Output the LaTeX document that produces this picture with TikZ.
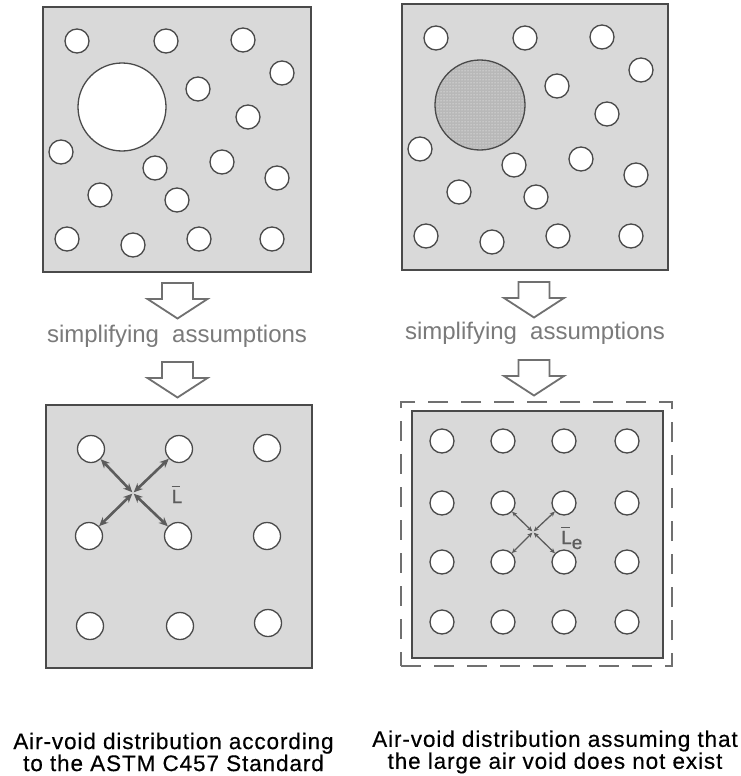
\documentclass[tikz,border=0pt]{standalone}
\usepackage{fontspec}
\setmainfont{Liberation Sans}
\usetikzlibrary{patterns,arrows.meta}
\definecolor{boxfill}{HTML}{D9D9D9}
\definecolor{edge}{HTML}{4A4A4A}
\definecolor{arrowgray}{HTML}{707070}
\definecolor{textgray}{HTML}{7A7A7A}
\definecolor{hatch}{HTML}{B8B8B8}
\newcommand{\voidfield}[1]{%
  \foreach \vx/\vy [count=\vi] in {34/34,123/34,200/33,239/66,155/82,205/110,18/145,112/161,179/155,234/171,57/188,134/193,24/232,90/238,156/232,229/232}
    \node[void] (#1-\vi) at (\vx,\vy) {};}
\newcommand{\barL}{{\setbox0\hbox{L}\rlap{\raisebox{\dimexpr\ht0+2.5pt\relax}{\rule{0.8\wd0}{1.3pt}}}L}}
\begin{document}
\begin{tikzpicture}[x=1pt,y=-1pt,
  panel/.style={draw=edge, line width=1.8pt, fill=boxfill, inner sep=0pt},
  void/.style={circle, draw=edge, line width=1.3pt, fill=white, minimum size=24pt, inner sep=0pt},
  bigvoid/.style={void, minimum size=27pt},
  blockarrow/.style={draw=arrowgray, line width=1.8pt, fill=white, line join=miter},
  caption/.style={align=center, font=\fontsize{22.5}{20}\selectfont\addfontfeature{LetterSpace=4,FakeBold=0.4}, inner sep=0pt},
  simp/.style={text=textgray, font=\fontsize{24}{26}\selectfont, inner sep=0pt},
  thickarr/.style={{Stealth[length=9pt,width=8pt]}-{Stealth[length=9pt,width=8pt]}, line width=2.6pt, draw=edge!90, shorten <=1pt},
  thinarr/.style={{Stealth[length=5pt,width=4.5pt]}-{Stealth[length=5pt,width=4.5pt]}, line width=1.3pt, draw=edge!90, shorten <=1pt},
  lbl/.style={text=edge!90, font=\fontsize{19}{20}\selectfont\addfontfeature{FakeBold=0.8}, inner sep=0pt}]
\useasboundingbox[fill=white] (0,0) rectangle (741,776);

% ---------- top left panel ----------
\node[panel, minimum width=268pt, minimum height=265pt] (P1) at (177,139.5) {};
\begin{scope}[shift={(43,7)}]
  \node[void, minimum size=88pt] (big1) at (79,100) {};
  \voidfield{a}
\end{scope}

% ---------- top right panel ----------
\node[panel, minimum width=266pt, minimum height=266pt] (P2) at (535,137) {};
\begin{scope}[shift={(402,4)}]
  \node[circle, minimum size=90pt, inner sep=0pt, fill=hatch] (big2f) at (78,101) {};
  \node[circle, minimum size=90pt, inner sep=0pt, draw=edge, line width=1.3pt, pattern=dots, pattern color=white] (big2) at (78,101) {};
  \voidfield{b}
\end{scope}

% ---------- block arrows & texts ----------
\coordinate (AL1) at (177.5,283);
\coordinate (AL2) at (177.5,362);
\coordinate (AR1) at (534,282);
\coordinate (AR2) at (534,360);
\foreach \c in {AL1,AL2,AR1,AR2}{
  \draw[blockarrow] (\c) ++(-15.5,0) -- ++(0,16) -- ++(-14.5,0) -- ++(30,19.5) -- ++(30,-19.5) -- ++(-14.5,0) -- ++(0,-16) -- cycle;
}
\node[simp] (S1) at (177,336) {simplifying\hspace{0.55em}assumptions};
\node[simp] (S2) at (535,333) {simplifying\hspace{0.55em}assumptions};

% ---------- bottom left panel ----------
\node[panel, minimum width=266pt, minimum height=263pt] (P3) at (179,536.5) {};
\node[bigvoid] (c11) at (91,449) {};
\node[bigvoid] (c12) at (179,449) {};
\node[bigvoid] (c13) at (267,448) {};
\node[bigvoid] (c21) at (89,536) {};
\node[bigvoid] (c22) at (178,536) {};
\node[bigvoid] (c23) at (267,536) {};
\node[bigvoid] (c31) at (90,626) {};
\node[bigvoid] (c32) at (180,626) {};
\node[bigvoid] (c33) at (268,623) {};
\coordinate (X1) at (133,493);
\draw[thickarr] (X1) -- (c11);
\draw[thickarr] (X1) -- (c12);
\draw[thickarr] (X1) -- (c21);
\draw[thickarr] (X1) -- (c22);
\node[lbl, anchor=base] (L1) at (177,503) {\barL};

% ---------- bottom right panel ----------
\node[draw=arrowgray, line width=1.8pt, dash pattern=on 20pt off 13pt, minimum width=271pt, minimum height=264pt, inner sep=0pt] (D4) at (536.5,534) {};
\node[panel, minimum width=251pt, minimum height=247pt] (P4) at (537.5,534.5) {};
\foreach \cx [count=\ci] in {442,503,564,627}{
  \foreach \cy [count=\ri] in {441,503,562,622}{
    \node[void] (d\ri\ci) at (\cx,\cy) {};
  }
}
\coordinate (X2) at (533,532);
\draw[thinarr] (X2) -- (d22);
\draw[thinarr] (X2) -- (d23);
\draw[thinarr] (X2) -- (d32);
\draw[thinarr] (X2) -- (d33);
\node[lbl, anchor=base west] (L2) at (561,544) {\barL\raisebox{-5pt}{e}};

% ---------- captions ----------
\node[caption] (T1) at (173.5,752) {Air-void distribution according\\to the ASTM C457 Standard};
\node[caption] (T2) at (555,752) {Air-void distribution assuming that\\the large air void does not exist};
\end{tikzpicture}
\end{document}
